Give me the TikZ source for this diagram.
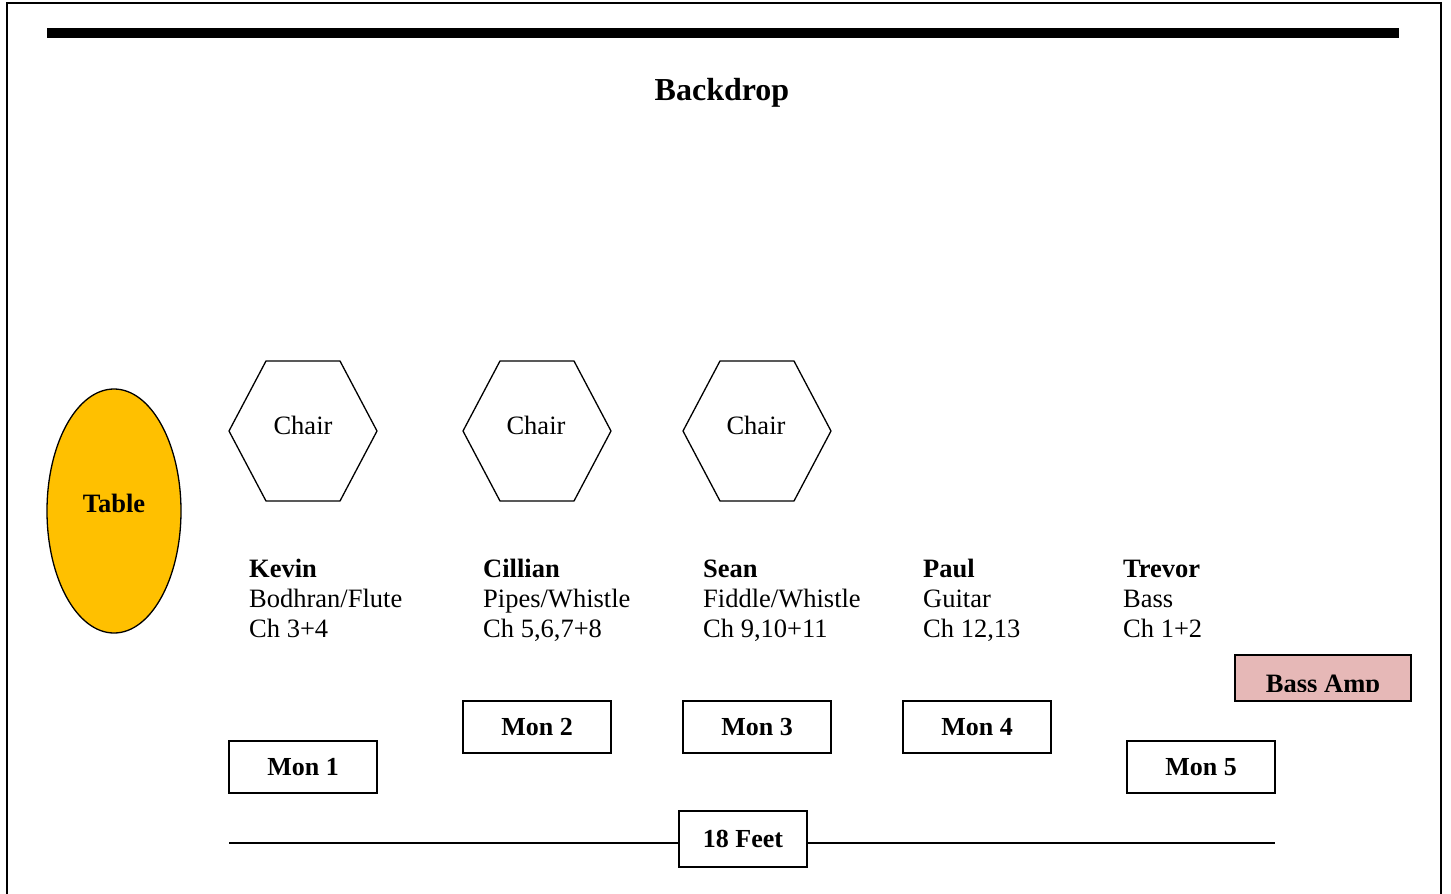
\documentclass[tikz,border=0pt]{standalone}
\usepackage{fontspec}
\setmainfont{Liberation Serif}
\usetikzlibrary{shapes.geometric}
\definecolor{tablecol}{HTML}{FFC000}
\definecolor{ampcol}{HTML}{E6B8B7}
\begin{document}
\begin{tikzpicture}[x=1pt,y=-1pt,
  txt/.style={font=\fontsize{26.5}{30}\selectfont, inner sep=0pt},
  btxt/.style={font=\fontsize{26.5}{30}\selectfont\bfseries, inner sep=0pt},
  monbox/.style={draw, line width=1.5pt, minimum width=148pt, minimum height=52pt, inner sep=0pt, font=\fontsize{26}{30}\selectfont\bfseries},
  hexline/.style={draw, line width=1.3pt, line join=miter},
  who/.style={anchor=base west, btxt},
  what/.style={anchor=base west, txt}]
\useasboundingbox (0,0) rectangle (1451,894);
% page frame
\coordinate (f1) at (7,894);
\coordinate (f2) at (7,3);
\coordinate (f3) at (1441,3);
\coordinate (f4) at (1441,894);
\draw[line width=2pt] (f1) -- (f2) -- (f3) -- (f4);
% backdrop bar
\fill (47,28) rectangle (1399,38);
\node[font=\fontsize{32}{34}\selectfont\bfseries, inner sep=0pt, anchor=base] (backdrop) at (722,100) {Backdrop};
% table
\node[draw, line width=1.3pt, ellipse, fill=tablecol, minimum width=134pt, minimum height=244pt, inner sep=0pt] (table) at (114,511) {};
\node[btxt] (tablelbl) at (114,503) {Table};
% chairs
\coordinate (c1) at (303,431);
\coordinate (c2) at (537,431);
\coordinate (c3) at (757,431);
\foreach \c in {c1,c2,c3}{
  \draw[hexline] (\c) ++(-74,0) -- ++(37,-70) -- ++(74,0) -- ++(37,70) -- ++(-37,70) -- ++(-74,0) -- cycle;
}
\node[txt] (c1l) at (303,425) {Chair};
\node[txt] (c2l) at (536,425) {Chair};
\node[txt] (c3l) at (756,425) {Chair};
% musicians
\node[who] (k1) at (249,577) {Kevin};
\node[what] (k2) at (249,607) {Bodhran/Flute};
\node[what] (k3) at (249,637) {Ch 3+4};
\node[who] (ci1) at (483,577) {Cillian};
\node[what] (ci2) at (483,607) {Pipes/Whistle};
\node[what] (ci3) at (483,637) {Ch 5,6,7+8};
\node[who] (s1) at (703,577) {Sean};
\node[what] (s2) at (703,607) {Fiddle/Whistle};
\node[what] (s3) at (703,637) {Ch 9,10+11};
\node[who] (p1) at (923,577) {Paul};
\node[what] (p2) at (923,607) {Guitar};
\node[what] (p3) at (923,637) {Ch 12,13};
\node[who] (t1) at (1123,577) {Trevor};
\node[what] (t2) at (1123,607) {Bass};
\node[what] (t3) at (1123,637) {Ch 1+2};
% bass amp
\node[draw, line width=1.5pt, fill=ampcol, minimum width=176pt, minimum height=46pt, inner sep=0pt] (amp) at (1323,678) {};
\begin{scope}
\clip (1236,656) rectangle (1410,691);
\node[btxt, anchor=base] (amplbl) at (1323,692) {Bass Amp};
\end{scope}
% monitors
\node[monbox] (m1) at (303,767) {Mon 1};
\node[monbox] (m2) at (537,727) {Mon 2};
\node[monbox] (m3) at (757,727) {Mon 3};
\node[monbox] (m4) at (977,727) {Mon 4};
\node[monbox] (m5) at (1201,767) {Mon 5};
% dimension
\node[draw, line width=1.5pt, minimum width=128pt, minimum height=56pt, inner sep=0pt, font=\fontsize{26}{30}\selectfont\bfseries] (feet) at (743,839) {18 Feet};
\coordinate (dl) at (229,843);
\coordinate (dr) at (1275,843);
\draw[line width=1.3pt] (dl) -- (dl -| feet.west);
\draw[line width=1.3pt] (dl -| feet.east) -- (dr);
\end{tikzpicture}
\end{document}
